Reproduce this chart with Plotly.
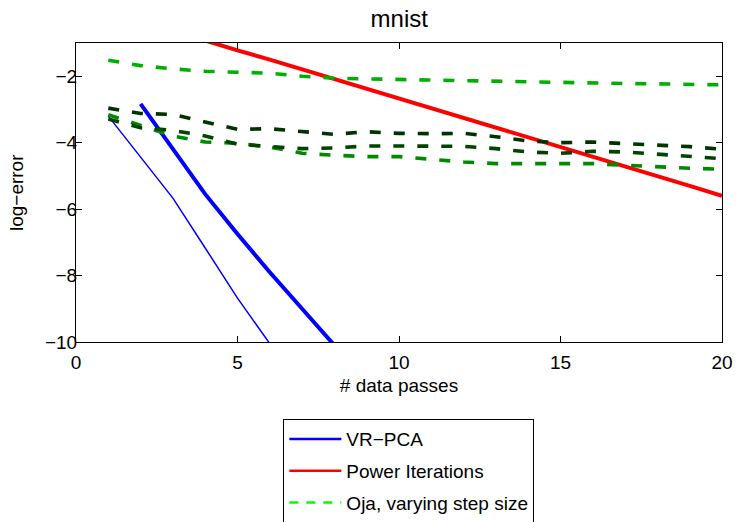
import plotly.graph_objects as go

passes = list(range(1, 21))

vr_thick_x = [2, 3, 4, 5, 6, 7, 8]
vr_thick_y = [-2.83, -4.2, -5.55, -6.75, -7.9, -9.0, -10.1]

vr_thin_x = [1, 2, 3, 4, 5, 6]
vr_thin_y = [-3.2, -4.44, -5.67, -7.17, -8.68, -10.05]

power_y = [-0.05, -0.35, -0.63, -0.93, -1.22, -1.5, -1.79, -2.08, -2.37, -2.66,
           -2.95, -3.24, -3.53, -3.82, -4.11, -4.4, -4.7, -5.0, -5.3, -5.6]

oja_a = [-2.96, -3.12, -3.15, -3.37, -3.6, -3.58, -3.67, -3.75, -3.67, -3.72,
         -3.73, -3.72, -3.82, -3.95, -4.0, -3.98, -4.03, -4.07, -4.12, -4.2]
oja_b = [-3.29, -3.55, -3.63, -3.8, -4.05, -4.12, -4.18, -4.16, -4.1, -4.1,
         -4.1, -4.11, -4.18, -4.28, -4.32, -4.26, -4.28, -4.34, -4.42, -4.48]
oja_c = [-3.16, -3.47, -3.8, -3.98, -4.02, -4.13, -4.32, -4.38, -4.42, -4.42,
         -4.5, -4.58, -4.63, -4.63, -4.63, -4.63, -4.68, -4.73, -4.77, -4.8]
oja_d = [-1.52, -1.68, -1.78, -1.85, -1.88, -1.91, -2.0, -2.06, -2.08, -2.1,
         -2.1, -2.13, -2.14, -2.16, -2.19, -2.2, -2.22, -2.23, -2.24, -2.26]

x_ticks = [0, 5, 10, 15, 20]
y_ticks = [-10, -8, -6, -4, -2]

FONT = "Liberation Sans, Arial, Helvetica, sans-serif"

fig = go.Figure()

# VR-PCA
fig.add_trace(go.Scatter(x=vr_thin_x, y=vr_thin_y, mode="lines",
                         line=dict(color="#0000ff", width=1.5), showlegend=False))
fig.add_trace(go.Scatter(x=vr_thick_x, y=vr_thick_y, mode="lines",
                         line=dict(color="#0000ff", width=4), showlegend=False))
# Power iterations
fig.add_trace(go.Scatter(x=passes, y=power_y, mode="lines",
                         line=dict(color="#ff0000", width=4), showlegend=False))
# Oja
for ys, col in [(oja_d, "#00b000"), (oja_c, "#008a00"), (oja_b, "#004400"), (oja_a, "#003300")]:
    fig.add_trace(go.Scatter(x=passes, y=ys, mode="lines",
                             line=dict(color=col, width=3.6, dash="11px,13px"),
                             showlegend=False))

# legend entries
fig.add_trace(go.Scatter(x=[None], y=[None], mode="lines", name="VR\u2212PCA",
                         legendgroup="a", line=dict(color="#0000ff", width=2.5)))
fig.add_trace(go.Scatter(x=[None], y=[None], mode="lines", name="Power Iterations",
                         legendgroup="b", line=dict(color="#ff0000", width=2.5)))
fig.add_trace(go.Scatter(x=[None], y=[None], mode="lines", name="Oja, varying step size",
                         legendgroup="c", line=dict(color="#00ff00", width=2.5, dash="9px,8px")))

axis_common = dict(
    showline=True, linecolor="black", linewidth=1, mirror="ticks",
    ticks="inside", ticklen=6, tickcolor="black", tickwidth=1,
    showgrid=False, zeroline=False, automargin=False,
    tickfont=dict(family=FONT, size=19, color="black"),
)

fig.update_layout(
    width=736, height=522,
    margin=dict(l=76, r=14, t=43, b=180, autoexpand=False),
    paper_bgcolor="white", plot_bgcolor="white",
    font=dict(family=FONT, color="black"),
    title=dict(text="mnist", x=0.5425, xanchor="center", y=0.965, yanchor="middle",
               font=dict(family=FONT, size=24, color="black")),
    xaxis=dict(range=[0, 20], tickvals=x_ticks, ticklabelstandoff=3,
               title=dict(text="# data passes", font=dict(family=FONT, size=19), standoff=6),
               **axis_common),
    yaxis=dict(range=[-10, -1], tickvals=y_ticks, ticklabelstandoff=-6,
               **axis_common),
    legend=dict(x=0.321, xanchor="left", y=-0.258, yanchor="top",
                bordercolor="black", borderwidth=1, bgcolor="white",
                font=dict(family=FONT, size=19, color="black"),
                traceorder="grouped", tracegroupgap=4, itemwidth=52),
    annotations=[dict(text="log\u2212error", xref="paper", yref="paper",
                      x=-0.092, y=0.5, xanchor="center", yanchor="middle",
                      textangle=-90, showarrow=False,
                      font=dict(family=FONT, size=19, color="black"))],
)

fig.write_html("out.html")
